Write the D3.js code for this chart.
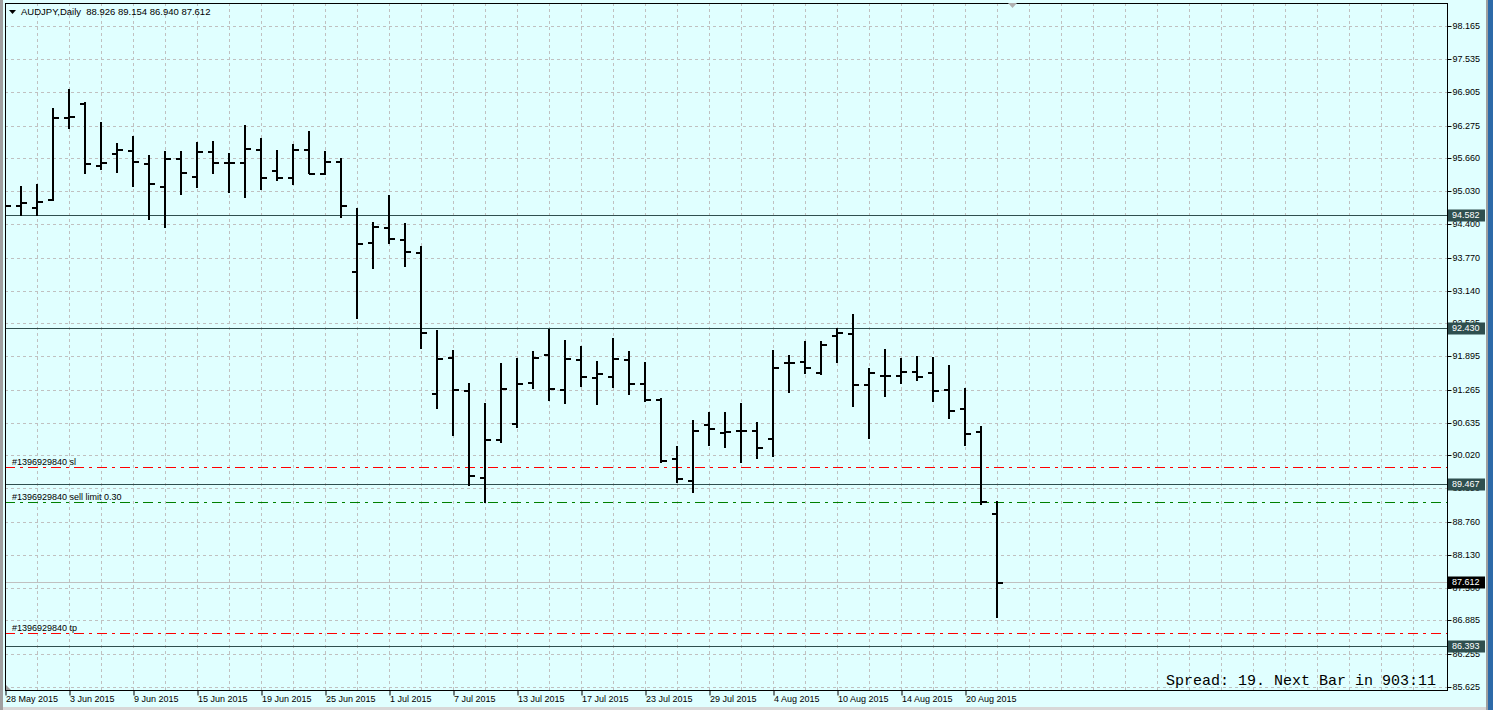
<!DOCTYPE html>
<html>
<head>
<meta charset="utf-8">
<script src="https://cdn.jsdelivr.net/npm/d3@7"></script>
<style>
html, body { margin: 0; padding: 0; background: #e0ffff; overflow: hidden; }
svg { display: block; }
</style>
</head>
<body>
<div id="chart"></div>
<script>
const header = 'AUDJPY,Daily  88.926 89.154 86.940 87.612';

const dateLabels = ['28 May 2015', '3 Jun 2015', '9 Jun 2015', '15 Jun 2015', '19 Jun 2015', '25 Jun 2015',
    '1 Jul 2015', '7 Jul 2015', '13 Jul 2015', '17 Jul 2015', '23 Jul 2015', '29 Jul 2015',
    '4 Aug 2015', '10 Aug 2015', '14 Aug 2015', '20 Aug 2015'];

const opens = [95.906, 94.767, 94.735, 94.881, 96.437, 96.703, 95.526, 95.760, 95.811, 95.570,
    95.128, 95.665, 95.323, 95.798, 95.583, 95.583, 95.830, 95.432, 95.304, 95.830,
    95.369, 95.608, 93.515, 94.071, 94.355, 94.116, 93.881, 91.205, 91.888, 91.256,
    89.611, 90.326, 90.636, 91.414, 91.934, 91.269, 91.845, 91.509, 91.528, 91.845,
    91.383, 91.085, 89.966, 89.548, 90.611, 90.459, 90.497, 90.497, 90.345, 91.788,
    91.807, 91.598, 92.300, 92.338, 91.370, 91.541, 91.541, 91.617, 91.598, 91.275,
    90.920, 90.484, 88.926];
const highs = [96.001, 95.128, 95.166, 96.608, 96.969, 96.722, 96.348, 95.944, 96.077, 95.716,
    95.792, 95.792, 95.963, 95.982, 95.749, 96.286, 96.033, 95.811, 95.925, 96.172,
    95.792, 95.654, 94.705, 94.439, 94.957, 94.420, 93.989, 92.395, 92.015, 91.383,
    91.004, 91.763, 91.858, 91.996, 92.408, 92.205, 92.091, 91.807, 92.237, 91.996,
    91.793, 91.104, 90.194, 90.687, 90.839, 90.839, 91.009, 90.649, 92.015, 91.920,
    92.186, 92.186, 92.433, 92.699, 91.674, 92.034, 91.864, 91.902, 91.883, 91.731,
    91.289, 90.579, 89.154];
const lows = [94.545, 94.578, 94.578, 94.862, 96.229, 95.375, 95.451, 95.399, 95.134, 94.496,
    94.355, 94.970, 95.115, 95.369, 95.020, 94.913, 95.065, 95.242, 95.160, 95.380,
    95.356, 94.534, 92.628, 93.577, 94.052, 93.615, 92.059, 90.920, 90.402, 89.453,
    89.136, 90.275, 90.560, 91.300, 91.066, 91.004, 91.338, 90.985, 91.319, 91.175,
    91.047, 89.890, 89.510, 89.320, 90.212, 90.174, 89.890, 89.966, 90.004, 91.218,
    91.579, 91.560, 91.788, 90.953, 90.345, 91.142, 91.389, 91.446, 91.053, 90.719,
    90.212, 89.087, 86.940];
const closes = [94.767, 94.830, 94.849, 96.437, 96.456, 95.564, 95.589, 95.830, 95.608, 95.179,
    95.665, 95.399, 95.798, 95.583, 95.590, 95.855, 95.304, 95.304, 95.830, 95.380,
    95.608, 94.767, 94.052, 94.374, 94.147, 93.894, 92.351, 91.869, 91.275, 89.643,
    90.320, 91.300, 91.395, 91.888, 91.300, 91.869, 91.528, 91.573, 91.869, 91.395,
    91.085, 89.928, 89.586, 90.497, 90.535, 90.478, 90.497, 90.174, 91.693, 91.788,
    91.693, 92.129, 92.357, 91.370, 91.598, 91.541, 91.617, 91.522, 91.256, 90.877,
    90.446, 89.155, 87.612];

const priceTicks = [98.165, 97.535, 96.905, 96.275, 95.660, 95.030, 94.400, 93.770, 93.140, 92.525,
    91.895, 91.265, 90.635, 90.020, 89.390, 88.760, 88.130, 87.500, 86.885, 86.255, 85.625];

const levelPrices = [94.582, 92.430, 89.467, 86.393];
const bidPrice = 87.612;
const orderNames = ['#1396929840 sl', '#1396929840 sell limit 0.30', '#1396929840 tp'];
const orderPrices = [89.789, 89.136, 86.639];
const orderColors = ['#ff0000', '#008000', '#ff0000'];
const spreadText = 'Spread: 19. Next Bar in 903:11';

const W = 1493;
const H = 710;
const plot = { left: 5, top: 3, right: 1447, bottom: 690 };
const font = '"Liberation Sans", Arial, sans-serif';

const svg = d3.select('#chart')
    .append('svg')
    .attr('width', W)
    .attr('height', H);

svg.append('rect')
    .attr('width', W)
    .attr('height', H)
    .attr('fill', '#e0ffff');

svg.append('defs')
    .append('clipPath')
    .attr('id', 'plotClip')
    .append('rect')
    .attr('x', plot.left)
    .attr('y', plot.top)
    .attr('width', plot.right - plot.left)
    .attr('height', plot.bottom - plot.top);

const xScale = d3.scaleLinear()
    .domain([0, opens.length - 1])
    .range([5, 5 + 16 * (opens.length - 1)]);

const yScale = d3.scaleLinear()
    .domain([85.625, 98.165])
    .range([686.7, 26]);

const py = v => Math.round(yScale(v));

// grid
const grid = svg.append('g')
    .attr('stroke', '#c0c0c0')
    .attr('stroke-dasharray', '3,3')
    .attr('stroke-width', 1);

d3.range(2, 200, 2)
    .filter(i => xScale(i) < plot.right - 4)
    .forEach(i => {
        grid.append('line')
            .attr('x1', xScale(i) + 0.5)
            .attr('x2', xScale(i) + 0.5)
            .attr('y1', plot.top)
            .attr('y2', plot.bottom);
    });

priceTicks.forEach(p => {
    grid.append('line')
        .attr('x1', plot.left)
        .attr('x2', plot.right)
        .attr('y1', py(p) + 0.5)
        .attr('y2', py(p) + 0.5);
});

const plotG = svg.append('g')
    .attr('clip-path', 'url(#plotClip)');

levelPrices.forEach(p => {
    plotG.append('line')
        .attr('x1', plot.left)
        .attr('x2', plot.right)
        .attr('y1', py(p) + 0.5)
        .attr('y2', py(p) + 0.5)
        .attr('stroke', '#2f4f4f');
});

plotG.append('line')
    .attr('x1', plot.left)
    .attr('x2', plot.right)
    .attr('y1', py(bidPrice) + 0.5)
    .attr('y2', py(bidPrice) + 0.5)
    .attr('stroke', '#c0c0c0');

orderPrices.forEach((p, i) => {
    plotG.append('line')
        .attr('x1', plot.left)
        .attr('x2', plot.right)
        .attr('y1', py(p) + 0.5)
        .attr('y2', py(p) + 0.5)
        .attr('stroke', orderColors[i])
        .attr('stroke-dasharray', '10,5,3,5');

    plotG.append('text')
        .attr('x', 12)
        .attr('y', py(p) - 2.5)
        .style('font-family', font)
        .style('font-size', '9px')
        .attr('fill', '#000')
        .text(orderNames[i]);
});

// OHLC bars
const bars = plotG.selectAll('.bar')
    .data(opens.map((o, i) => ({ i, o, h: highs[i], l: lows[i], c: closes[i] })))
    .enter()
    .append('g')
    .attr('class', 'bar')
    .attr('stroke', '#000')
    .attr('stroke-width', 2);

bars.append('line')
    .attr('x1', d => xScale(d.i))
    .attr('x2', d => xScale(d.i))
    .attr('y1', d => py(d.h))
    .attr('y2', d => py(d.l) + 1);

bars.append('line')
    .attr('x1', d => xScale(d.i) - 5)
    .attr('x2', d => xScale(d.i))
    .attr('y1', d => py(d.o) + 1)
    .attr('y2', d => py(d.o) + 1);

bars.append('line')
    .attr('x1', d => xScale(d.i))
    .attr('x2', d => xScale(d.i) + 6)
    .attr('y1', d => py(d.c) + 1)
    .attr('y2', d => py(d.c) + 1);

// frame
svg.append('rect')
    .attr('x', plot.left + 0.5)
    .attr('y', plot.top + 0.5)
    .attr('width', plot.right - plot.left)
    .attr('height', plot.bottom - plot.top)
    .attr('fill', 'none')
    .attr('stroke', '#000');

// bottom axis
const xAxis = svg.append('g')
    .attr('transform', `translate(0.5, ${plot.bottom + 0.5})`)
    .call(d3.axisBottom(xScale)
        .tickValues(dateLabels.map((d, i) => i * 4))
        .tickFormat(i => dateLabels[i / 4])
        .tickSize(5)
        .tickSizeOuter(0));

xAxis.select('.domain').remove();
xAxis.selectAll('line').attr('stroke', '#000');
xAxis.selectAll('text')
    .attr('text-anchor', 'start')
    .attr('x', 0)
    .attr('y', 5)
    .attr('dy', '0.71em')
    .style('font-family', font)
    .style('font-size', '9px')
    .attr('fill', '#000');

// right axis
const yAxis = svg.append('g')
    .attr('transform', `translate(${plot.right + 0.5}, 0.5)`)
    .call(d3.axisRight(yScale)
        .tickValues(priceTicks)
        .tickFormat(d3.format('.3f'))
        .tickSize(4)
        .tickPadding(1)
        .tickSizeOuter(0));

yAxis.select('.domain').remove();
yAxis.selectAll('.tick').attr('transform', d => `translate(0, ${py(d)})`);
yAxis.selectAll('line').attr('stroke', '#000');
yAxis.selectAll('text')
    .style('font-family', font)
    .style('font-size', '9px')
    .attr('fill', '#000');

const priceBox = (p, bg) => {
    const g = svg.append('g')
        .attr('transform', `translate(${plot.right + 1}, ${py(p)})`);
    g.append('rect')
        .attr('x', 0)
        .attr('y', -5.5)
        .attr('width', 37)
        .attr('height', 12)
        .attr('fill', bg);
    g.append('text')
        .attr('x', 4)
        .attr('y', 0.5)
        .attr('dy', '0.32em')
        .style('font-family', font)
        .style('font-size', '9px')
        .attr('fill', '#fff')
        .text(d3.format('.3f')(p));
};

levelPrices.forEach(p => priceBox(p, '#2f4f4f'));
priceBox(bidPrice, '#000');

// header
svg.append('path')
    .attr('d', 'M9,10 L16,10 L12.5,14 Z')
    .attr('fill', '#000');

svg.append('text')
    .attr('x', 21)
    .attr('y', 12)
    .attr('dy', '0.35em')
    .attr('xml:space', 'preserve')
    .style('white-space', 'pre')
    .style('font-family', font)
    .style('font-size', '9.5px')
    .attr('fill', '#000')
    .text(header);

svg.append('text')
    .attr('x', 1166)
    .attr('y', 685)
    .style('font-family', '"Liberation Mono", "Courier New", monospace')
    .style('font-size', '15px')
    .attr('fill', '#000')
    .text(spreadText);

// small window details
svg.append('path')
    .attr('d', 'M1008,3 L1017,3 L1012.5,8 Z')
    .attr('fill', '#b0b0b0');

svg.append('path')
    .attr('d', 'M6,685 L6,690 L11,690 Z')
    .attr('fill', '#a0a0a0');

svg.append('rect')
    .attr('x', 0)
    .attr('y', 0)
    .attr('width', 3)
    .attr('height', H)
    .attr('fill', '#a0a0a0');

svg.append('rect')
    .attr('x', 1486)
    .attr('y', 0)
    .attr('width', 2)
    .attr('height', H)
    .attr('fill', '#a0a0a0');

svg.append('rect')
    .attr('x', 1488)
    .attr('y', 0)
    .attr('width', 5)
    .attr('height', H)
    .attr('fill', '#2d6aa8');

svg.append('rect')
    .attr('x', 3)
    .attr('y', 707)
    .attr('width', 1483)
    .attr('height', 3)
    .attr('fill', '#d8d8d8');
</script>
</body>
</html>
